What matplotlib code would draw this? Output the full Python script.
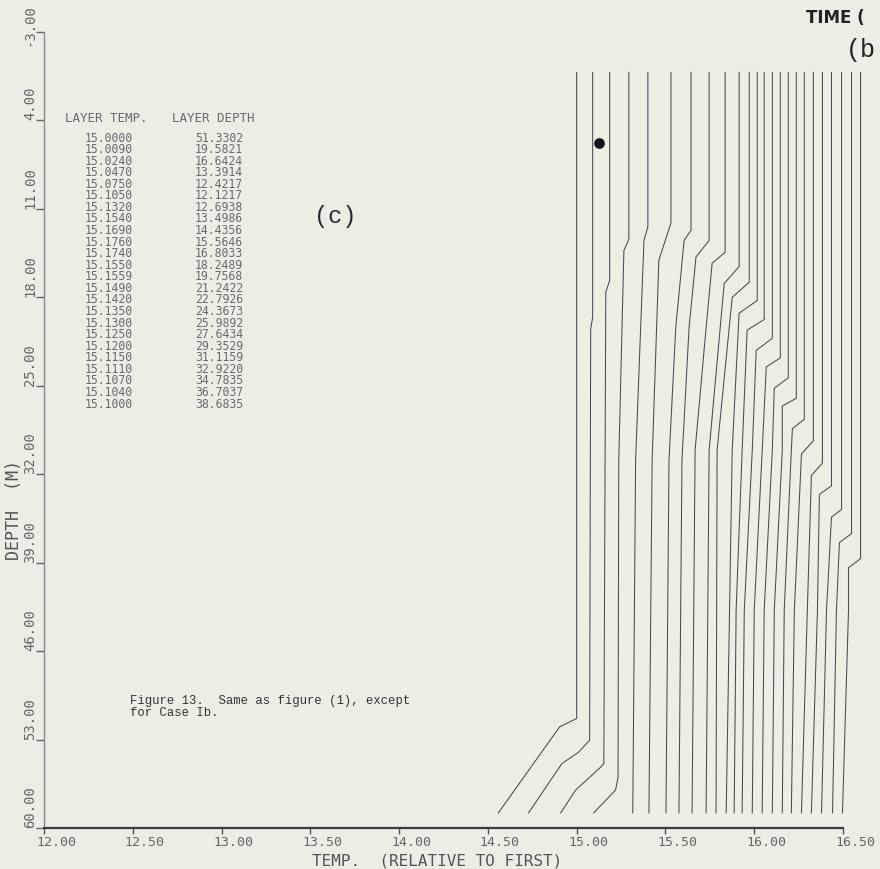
import matplotlib
matplotlib.use("Agg")
import matplotlib.pyplot as plt
from matplotlib.transforms import ScaledTranslation

# ---------------- data ----------------
X_TICKS = [12.00, 12.50, 13.00, 13.50, 14.00, 14.50, 15.00, 15.50, 16.00, 16.50]
Y_TICKS = [-3.00, 4.00, 11.00, 18.00, 25.00, 32.00, 39.00, 46.00, 53.00, 60.00]

LAYER_TEMP = [15.0000, 15.0090, 15.0240, 15.0470, 15.0750, 15.1050, 15.1320, 15.1540,
              15.1690, 15.1760, 15.1740, 15.1550, 15.1559, 15.1490, 15.1420, 15.1350,
              15.1300, 15.1250, 15.1200, 15.1150, 15.1110, 15.1070, 15.1040, 15.1000]
LAYER_DEPTH = [51.3302, 19.5821, 16.6424, 13.3914, 12.4217, 12.1217, 12.6938, 13.4986,
               14.4356, 15.5646, 16.8033, 18.2489, 19.7568, 21.2422, 22.7926, 24.3673,
               25.9892, 27.6434, 29.3529, 31.1159, 32.9220, 34.7835, 36.7037, 38.6835]

# plotted (offset) mixed-layer temperature of each profile
SURFACE_T = [15.000, 15.090, 15.186, 15.294, 15.401, 15.531, 15.644, 15.746,
             15.836, 15.915, 15.972, 16.017, 16.056, 16.102, 16.147, 16.192,
             16.237, 16.282, 16.333, 16.384, 16.435, 16.492, 16.548, 16.599]

# vertices below the mixed layer (depth, temperature)
BELOW_DEPTHS = [
    [52.0, 58.8],
    [20.5, 53.05, 54.0, 54.9, 58.8],
    [17.6, 54.9, 55.2, 57.0, 58.8],
    [14.3, 31.0, 56.0, 57.0, 58.8],
    [13.5, 30.9, 58.8],
    [15.05, 30.9, 58.8],
    [13.5, 20.4, 30.9, 58.8],
    [14.8, 20.4, 30.9, 58.8],
    [15.3, 20.4, 30.1, 58.8],
    [16.9, 30.1, 58.8],
    [18.0, 30.1, 58.8],
    [19.25, 30.1, 58.8],
    [20.6, 30.1, 42.8, 58.8],
    [22.2, 30.1, 42.8, 58.8],
    [23.5, 30.1, 42.8, 58.8],
    [25.2, 30.1, 42.8, 58.8],
    [26.6, 30.1, 42.8, 58.8],
    [28.4, 30.1, 42.8, 58.8],
    [30.4, 42.8, 58.8],
    [32.1, 42.8, 58.8],
    [33.6, 42.8, 58.8],
    [35.4, 42.8, 58.8],
    [37.4, 42.8, 58.8],
    [39.4, 42.8, 58.8],
]
BELOW_TEMPS = [
    [14.904, 14.559],
    [15.079, 15.073, 15.011, 14.917, 14.729],
    [15.164, 15.153, 15.134, 14.994, 14.910],
    [15.266, 15.237, 15.233, 15.219, 15.096],
    [15.379, 15.332, 15.316],
    [15.463, 15.425, 15.407],
    [15.605, 15.558, 15.520, 15.503],
    [15.672, 15.633, 15.593, 15.576],
    [15.763, 15.729, 15.667, 15.650],
    [15.831, 15.746, 15.729],
    [15.876, 15.791, 15.785],
    [15.915, 15.876, 15.842],
    [15.960, 15.932, 15.898, 15.887],
    [16.011, 15.989, 15.944, 15.932],
    [16.068, 16.045, 16.000, 15.989],
    [16.113, 16.102, 16.056, 16.045],
    [16.158, 16.158, 16.113, 16.102],
    [16.215, 16.209, 16.169, 16.158],
    [16.266, 16.226, 16.209],
    [16.322, 16.299, 16.266],
    [16.367, 16.356, 16.322],
    [16.435, 16.407, 16.379],
    [16.480, 16.463, 16.441],
    [16.531, 16.531, 16.497],
]
SURFACE_DEPTH = 0.2

BLOT_T = [15.124]
BLOT_D = [5.8]

# ---------------- figure ----------------
W, H = 880, 869
BG = "#EDEDE6"
INK = "#4a4a4a"
PLOT_FONT = "DejaVu Sans Mono"
TYPE_FONT = "Liberation Mono"

fig = plt.figure(figsize=(W / 100, H / 100), dpi=100, facecolor=BG)
ax = fig.add_axes([44 / W, 1 - 828 / H, (843 - 44) / W, (828 - 32) / H])
ax.set_facecolor(BG)
ax.set_xlim(12.0, 16.5)
ax.set_ylim(60.0, -3.0)

for i in range(len(SURFACE_T)):
    d = [SURFACE_DEPTH, LAYER_DEPTH[i]] + BELOW_DEPTHS[i]
    t = [SURFACE_T[i], SURFACE_T[i]] + BELOW_TEMPS[i]
    ax.plot(t, d, color=INK, lw=0.75, clip_on=False)

ax.scatter(BLOT_T, BLOT_D, s=45, color="#151515", zorder=5, clip_on=False)

for s in ["top", "right"]:
    ax.spines[s].set_visible(False)
ax.spines["bottom"].set_color("#3a3a3a")
ax.spines["bottom"].set_linewidth(1.6)
ax.spines["left"].set_color("#8a8a8a")
ax.spines["left"].set_linewidth(1.0)

ax.set_xticks(X_TICKS)
ax.set_xticklabels([f"{v:.2f}" for v in X_TICKS], fontfamily=PLOT_FONT,
                   fontsize=9.5, color="#666666")
ax.tick_params(axis="x", direction="out", length=4, width=1, color="#555555", pad=2)
for lab in ax.get_xticklabels():
    lab.set_horizontalalignment("left")
    lab.set_transform(lab.get_transform() + ScaledTranslation(-8 / 100, 0, fig.dpi_scale_trans))

ax.set_yticks(Y_TICKS)
ax.set_yticklabels([f"{v:.2f}" for v in Y_TICKS], fontfamily=PLOT_FONT,
                   fontsize=10, color="#666666", rotation=90)
ax.tick_params(axis="y", direction="out", length=6, width=1, color="#666666", pad=-1)
ylabs = ax.get_yticklabels()
for lab in ylabs:
    lab.set_verticalalignment("bottom")
    lab.set_horizontalalignment("right")
# the top label would run off the sheet: nudge it down a little
ylabs[0].set_transform(ylabs[0].get_transform() + ScaledTranslation(0, -14 / 100, fig.dpi_scale_trans))

fig.text(437 / W, 1 - 861 / H, "TEMP.  (RELATIVE TO FIRST)", fontfamily=PLOT_FONT,
         fontsize=11.5, color="#555555", ha="center", va="center")
fig.text(14 / W, 1 - 510 / H, "DEPTH  (M)", fontfamily=PLOT_FONT, fontsize=12,
         color="#555555", ha="center", va="center", rotation=90)

# table of layer values
fig.text(65 / W, 1 - 118 / H, "LAYER TEMP.", fontfamily=PLOT_FONT, fontsize=9,
         color="#6a6a6a", ha="left", va="center")
fig.text(172 / W, 1 - 118 / H, "LAYER DEPTH", fontfamily=PLOT_FONT, fontsize=9,
         color="#6a6a6a", ha="left", va="center")
for i, (lt, ld) in enumerate(zip(LAYER_TEMP, LAYER_DEPTH)):
    yy = 1 - (138 + i * 11.57) / H
    fig.text(85 / W, yy, f"{lt:.4f}", fontfamily=PLOT_FONT, fontsize=8.3,
             color="#6a6a6a", ha="left", va="center")
    fig.text(195 / W, yy, f"{ld:.4f}", fontfamily=PLOT_FONT, fontsize=8.3,
             color="#6a6a6a", ha="left", va="center")

fig.text(335 / W, 1 - 217 / H, "(c)", fontfamily=TYPE_FONT, fontsize=17,
         color="#2a2a2a", ha="center", va="center")

fig.text(130 / W, 1 - 707 / H, "Figure 13.  Same as figure (1), except\nfor Case Ib.",
         fontfamily=TYPE_FONT, fontsize=8.8, color="#333333", ha="left", va="center",
         linespacing=1.1)

fig.text(806 / W, 1 - 18 / H, "TIME (", fontfamily="DejaVu Sans", fontweight="bold",
         fontsize=12, color="#222222", ha="left", va="center")
fig.text(846 / W, 1 - 50 / H, "(b", fontfamily=TYPE_FONT, fontsize=18,
         color="#222222", ha="left", va="center")

fig.savefig("out.png", dpi=100, facecolor=BG)
